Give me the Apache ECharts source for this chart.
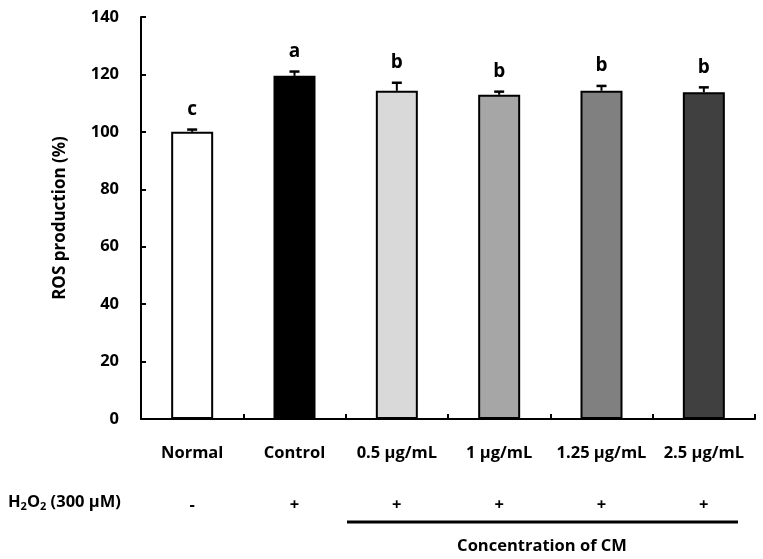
<!DOCTYPE html>
<html>
<head>
<meta charset="utf-8">
<script src="https://cdn.jsdelivr.net/npm/echarts@6/dist/echarts.min.js"></script>
<style>html,body{margin:0;padding:0;background:#fff}#c{width:763px;height:559px}</style>
</head>
<body>
<div id="c"></div>
<script>
const categories = ['Normal', 'Control', '0.5 μg/mL', '1 μg/mL', '1.25 μg/mL', '2.5 μg/mL'];
const values = [100.0, 119.5, 114.3, 112.9, 114.3, 113.8];
const errors = [0.8, 1.5, 2.8, 1.1, 1.7, 1.7];
const letters = ['c', 'a', 'b', 'b', 'b', 'b'];
const barColors = ['#ffffff', '#000000', '#d9d9d9', '#a6a6a6', '#808080', '#404040'];
const h2o2Signs = ['-', '+', '+', '+', '+', '+'];
const yTicks = [0, 20, 40, 60, 80, 100, 120, 140];

const FONT = '"Open Sans", "Liberation Sans", sans-serif';
const chart = echarts.init(document.getElementById('c'));
const option = {
  animation: false,
  grid: { left: 141, right: 8, top: 17, bottom: 140 },
  xAxis: [{
    type: 'category',
    data: categories,
    axisLine: { lineStyle: { color: '#000', width: 2 } },
    axisTick: { show: true, inside: true, length: 5, lineStyle: { color: '#000', width: 2 } },
    axisLabel: { color: '#000', fontFamily: FONT, fontWeight: 'bold', fontSize: 16.5, margin: 26, interval: 0 }
  }, {
    type: 'category',
    data: h2o2Signs,
    position: 'bottom',
    offset: 52,
    axisLine: { show: false },
    axisTick: { show: false },
    axisLabel: { color: '#000', fontFamily: FONT, fontWeight: 'bold', fontSize: 16.5, margin: 26, interval: 0 }
  }],
  yAxis: {
    type: 'value',
    min: 0, max: 140, interval: 20,
    name: 'ROS production (%)',
    nameLocation: 'middle',
    nameGap: 72,
    nameTextStyle: { color: '#000', fontFamily: FONT, fontWeight: 'bold', fontSize: 17 },
    splitLine: { show: false },
    axisLine: { show: true, lineStyle: { color: '#000', width: 2 } },
    axisTick: { show: true, inside: true, length: 5, lineStyle: { color: '#000', width: 2 } },
    axisLabel: { color: '#000', fontFamily: FONT, fontWeight: 'bold', fontSize: 16.5, margin: 22,
      formatter: v => yTicks.includes(v) ? String(v) : '' }
  },
  series: [{
    type: 'bar',
    xAxisIndex: 0,
    barWidth: 42,
    data: values.map((v, i) => ({ value: v, itemStyle: { color: barColors[i] } })),
    itemStyle: { borderColor: '#000', borderWidth: 2 },
    z: 2
  }, {
    type: 'custom',
    xAxisIndex: 0,
    data: values.map((v, i) => [i, v, errors[i]]),
    renderItem: function (params, api) {
      const i = api.value(0);
      const base = api.coord([i, api.value(1)]);
      const top = api.coord([i, api.value(1) + api.value(2)]);
      const x = base[0];
      return {
        type: 'group',
        children: [
          { type: 'line', shape: { x1: x, y1: base[1], x2: x, y2: top[1] }, style: { stroke: '#000', lineWidth: 2 } },
          { type: 'line', shape: { x1: x - 5, y1: top[1], x2: x + 5, y2: top[1] }, style: { stroke: '#000', lineWidth: 2.5 } },
          { type: 'text', x: x, y: top[1] - 20, style: { text: letters[params.dataIndex], fill: '#000', font: 'bold 19px ' + FONT, textAlign: 'center', textVerticalAlign: 'middle' } }
        ]
      };
    },
    z: 3
  }],
  graphic: [
    { type: 'text', left: 8, top: 494, style: { rich: { b: { fontFamily: FONT, fontWeight: 'bold', fontSize: 16.5, fill: '#000' }, s: { fontFamily: FONT, fontWeight: 'bold', fontSize: 11, fill: '#000', padding: [9, 0, 0, 0] } }, text: '{b|H}{s|2}{b|O}{s|2}{b| (300 μM)}' } },
    { type: 'line', shape: { x1: 347, y1: 522, x2: 738, y2: 522 }, style: { stroke: '#000', lineWidth: 3 } },
    { type: 'text', x: 542, y: 546, style: { text: 'Concentration of CM', fill: '#000', font: 'bold 16.5px ' + FONT, textAlign: 'center', textVerticalAlign: 'middle' } }
  ]
};
chart.setOption(option);
</script>
</body>
</html>
